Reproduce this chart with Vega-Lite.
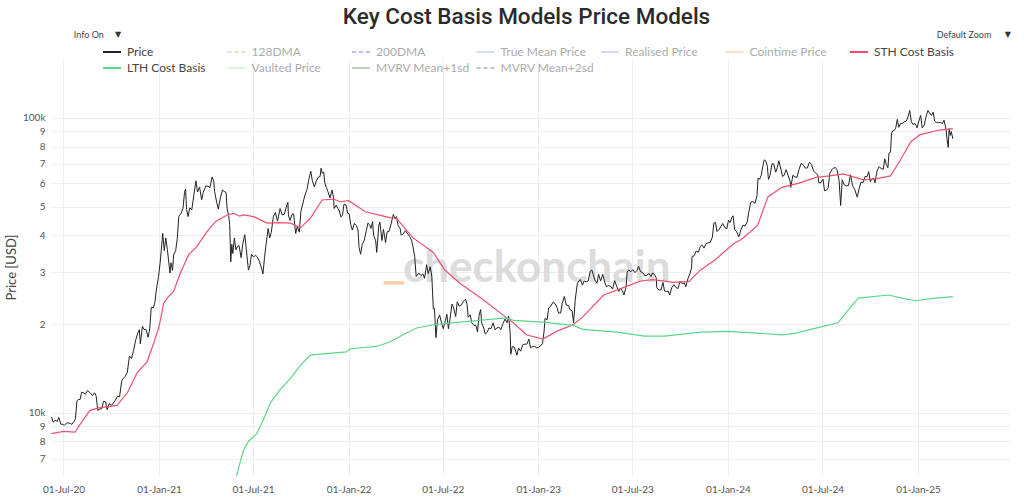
{
"$schema": "https://vega.github.io/schema/vega-lite/v6.json",
"autosize": {"type": "none"},
"padding": {"left": 51, "top": 58, "right": 14, "bottom": 23},
"width": 959,
"height": 418,
"background": "white",
"title": {"text": "Key Cost Basis Models Price Models", "font": "Roboto", "fontSize": 22.5, "fontWeight": 500, "color": "#2b2b2b", "anchor": "middle", "frame": "group", "offset": 3, "dx": -4},
"config": {
  "view": {"stroke": null},
  "axis": {"labelFont": "Lato", "titleFont": "Lato", "labelColor": "#555", "titleColor": "#444", "gridColor": "#eeeeee", "domain": false, "ticks": false},
  "legend": {"labelFont": "Lato"}
},
"data": {"values": [
{"date":"2020-06-08","series":"Price","value":9700},{"date":"2020-06-11","series":"Price","value":9300},{"date":"2020-06-15","series":"Price","value":9450},{"date":"2020-06-19","series":"Price","value":9350},{"date":"2020-06-22","series":"Price","value":9650},{"date":"2020-06-26","series":"Price","value":9150},{"date":"2020-06-29","series":"Price","value":9150},{"date":"2020-07-03","series":"Price","value":9080},{"date":"2020-07-07","series":"Price","value":9250},{"date":"2020-07-10","series":"Price","value":9250},{"date":"2020-07-14","series":"Price","value":9200},{"date":"2020-07-17","series":"Price","value":9150},{"date":"2020-07-21","series":"Price","value":9350},{"date":"2020-07-24","series":"Price","value":9550},{"date":"2020-07-27","series":"Price","value":11000},{"date":"2020-07-30","series":"Price","value":11100},{"date":"2020-08-02","series":"Price","value":11100},{"date":"2020-08-05","series":"Price","value":11750},{"date":"2020-08-09","series":"Price","value":11700},{"date":"2020-08-12","series":"Price","value":11550},{"date":"2020-08-16","series":"Price","value":11900},{"date":"2020-08-19","series":"Price","value":11800},{"date":"2020-08-22","series":"Price","value":11650},{"date":"2020-08-26","series":"Price","value":11450},{"date":"2020-08-30","series":"Price","value":11700},{"date":"2020-09-02","series":"Price","value":11400},{"date":"2020-09-05","series":"Price","value":10200},{"date":"2020-09-09","series":"Price","value":10300},{"date":"2020-09-13","series":"Price","value":10350},{"date":"2020-09-16","series":"Price","value":10950},{"date":"2020-09-20","series":"Price","value":10900},{"date":"2020-09-23","series":"Price","value":10250},{"date":"2020-09-27","series":"Price","value":10750},{"date":"2020-10-01","series":"Price","value":10600},{"date":"2020-10-05","series":"Price","value":10800},{"date":"2020-10-09","series":"Price","value":11050},{"date":"2020-10-13","series":"Price","value":11400},{"date":"2020-10-17","series":"Price","value":11350},{"date":"2020-10-21","series":"Price","value":12800},{"date":"2020-10-24","series":"Price","value":13100},{"date":"2020-10-28","series":"Price","value":13300},{"date":"2020-11-01","series":"Price","value":13750},{"date":"2020-11-05","series":"Price","value":15600},{"date":"2020-11-09","series":"Price","value":15300},{"date":"2020-11-13","series":"Price","value":16300},{"date":"2020-11-17","series":"Price","value":17650},{"date":"2020-11-21","series":"Price","value":18650},{"date":"2020-11-24","series":"Price","value":19150},{"date":"2020-11-26","series":"Price","value":17150},{"date":"2020-11-30","series":"Price","value":19650},{"date":"2020-12-03","series":"Price","value":19200},{"date":"2020-12-07","series":"Price","value":19150},{"date":"2020-12-11","series":"Price","value":18050},{"date":"2020-12-14","series":"Price","value":19250},{"date":"2020-12-17","series":"Price","value":22800},{"date":"2020-12-21","series":"Price","value":22700},{"date":"2020-12-24","series":"Price","value":23700},{"date":"2020-12-27","series":"Price","value":26300},{"date":"2020-12-31","series":"Price","value":29000},
{"date":"2021-01-03","series":"Price","value":32200},{"date":"2021-01-06","series":"Price","value":36800},{"date":"2021-01-08","series":"Price","value":40600},{"date":"2021-01-11","series":"Price","value":35500},{"date":"2021-01-14","series":"Price","value":39200},{"date":"2021-01-17","series":"Price","value":35800},{"date":"2021-01-22","series":"Price","value":29800},{"date":"2021-01-24","series":"Price","value":32300},{"date":"2021-01-27","series":"Price","value":30400},{"date":"2021-01-29","series":"Price","value":34300},{"date":"2021-02-02","series":"Price","value":35500},{"date":"2021-02-05","series":"Price","value":38900},{"date":"2021-02-08","series":"Price","value":46400},{"date":"2021-02-12","series":"Price","value":47400},{"date":"2021-02-16","series":"Price","value":49200},{"date":"2021-02-19","series":"Price","value":55900},{"date":"2021-02-21","series":"Price","value":57400},{"date":"2021-02-23","series":"Price","value":48900},{"date":"2021-02-26","series":"Price","value":46300},{"date":"2021-03-01","series":"Price","value":49600},{"date":"2021-03-05","series":"Price","value":48800},{"date":"2021-03-09","series":"Price","value":54900},{"date":"2021-03-13","series":"Price","value":61200},{"date":"2021-03-16","series":"Price","value":56100},{"date":"2021-03-20","series":"Price","value":58300},{"date":"2021-03-24","series":"Price","value":52800},{"date":"2021-03-27","series":"Price","value":55900},{"date":"2021-04-01","series":"Price","value":58800},{"date":"2021-04-05","series":"Price","value":58700},{"date":"2021-04-09","series":"Price","value":58100},{"date":"2021-04-13","series":"Price","value":63100},{"date":"2021-04-16","series":"Price","value":61300},{"date":"2021-04-18","series":"Price","value":56200},{"date":"2021-04-22","series":"Price","value":51700},{"date":"2021-04-25","series":"Price","value":49100},{"date":"2021-04-29","series":"Price","value":53600},{"date":"2021-05-03","series":"Price","value":57000},{"date":"2021-05-06","series":"Price","value":56400},{"date":"2021-05-10","series":"Price","value":55800},{"date":"2021-05-12","series":"Price","value":49200},{"date":"2021-05-15","series":"Price","value":46700},{"date":"2021-05-17","series":"Price","value":43500},{"date":"2021-05-19","series":"Price","value":32500},{"date":"2021-05-21","series":"Price","value":37300},{"date":"2021-05-23","series":"Price","value":34700},{"date":"2021-05-26","series":"Price","value":39200},{"date":"2021-05-29","series":"Price","value":35700},{"date":"2021-06-01","series":"Price","value":36700},{"date":"2021-06-04","series":"Price","value":36900},{"date":"2021-06-08","series":"Price","value":33600},{"date":"2021-06-11","series":"Price","value":37300},{"date":"2021-06-15","series":"Price","value":40200},{"date":"2021-06-18","series":"Price","value":35800},{"date":"2021-06-22","series":"Price","value":30500},{"date":"2021-06-25","series":"Price","value":31600},{"date":"2021-06-28","series":"Price","value":34500},{"date":"2021-07-02","series":"Price","value":33800},{"date":"2021-07-06","series":"Price","value":34200},{"date":"2021-07-09","series":"Price","value":33800},{"date":"2021-07-13","series":"Price","value":32700},{"date":"2021-07-16","series":"Price","value":31500},{"date":"2021-07-20","series":"Price","value":29600},{"date":"2021-07-23","series":"Price","value":33600},{"date":"2021-07-26","series":"Price","value":37300},{"date":"2021-07-30","series":"Price","value":42200},{"date":"2021-08-02","series":"Price","value":39200},{"date":"2021-08-05","series":"Price","value":40900},{"date":"2021-08-09","series":"Price","value":46300},{"date":"2021-08-13","series":"Price","value":47800},{"date":"2021-08-17","series":"Price","value":44700},{"date":"2021-08-22","series":"Price","value":49300},{"date":"2021-08-26","series":"Price","value":46900},{"date":"2021-08-30","series":"Price","value":47100},{"date":"2021-09-03","series":"Price","value":49900},{"date":"2021-09-06","series":"Price","value":51700},{"date":"2021-09-07","series":"Price","value":46800},{"date":"2021-09-10","series":"Price","value":44900},{"date":"2021-09-14","series":"Price","value":47100},{"date":"2021-09-17","series":"Price","value":47300},{"date":"2021-09-21","series":"Price","value":40600},{"date":"2021-09-24","series":"Price","value":42800},{"date":"2021-09-28","series":"Price","value":41000},{"date":"2021-10-01","series":"Price","value":48200},{"date":"2021-10-05","series":"Price","value":51500},{"date":"2021-10-09","series":"Price","value":54900},{"date":"2021-10-13","series":"Price","value":57300},{"date":"2021-10-16","series":"Price","value":61500},{"date":"2021-10-20","series":"Price","value":66000},{"date":"2021-10-23","series":"Price","value":61300},{"date":"2021-10-27","series":"Price","value":58400},{"date":"2021-10-31","series":"Price","value":61300},{"date":"2021-11-03","series":"Price","value":62900},{"date":"2021-11-07","series":"Price","value":63300},{"date":"2021-11-09","series":"Price","value":67600},{"date":"2021-11-11","series":"Price","value":64900},{"date":"2021-11-14","series":"Price","value":65500},{"date":"2021-11-16","series":"Price","value":60300},{"date":"2021-11-19","series":"Price","value":58100},{"date":"2021-11-22","series":"Price","value":56300},{"date":"2021-11-26","series":"Price","value":53600},{"date":"2021-11-30","series":"Price","value":57000},{"date":"2021-12-03","series":"Price","value":53600},{"date":"2021-12-04","series":"Price","value":49300},{"date":"2021-12-08","series":"Price","value":50600},{"date":"2021-12-11","series":"Price","value":49400},{"date":"2021-12-14","series":"Price","value":48400},{"date":"2021-12-17","series":"Price","value":46200},{"date":"2021-12-20","series":"Price","value":46700},{"date":"2021-12-23","series":"Price","value":51000},{"date":"2021-12-27","series":"Price","value":50700},{"date":"2021-12-30","series":"Price","value":47500},
{"date":"2022-01-02","series":"Price","value":47300},{"date":"2022-01-05","series":"Price","value":43500},{"date":"2022-01-08","series":"Price","value":41700},{"date":"2022-01-12","series":"Price","value":43900},{"date":"2022-01-16","series":"Price","value":43100},{"date":"2022-01-19","series":"Price","value":41700},{"date":"2022-01-21","series":"Price","value":36400},{"date":"2022-01-24","series":"Price","value":34500},{"date":"2022-01-27","series":"Price","value":37200},{"date":"2022-01-31","series":"Price","value":38500},{"date":"2022-02-04","series":"Price","value":41500},{"date":"2022-02-07","series":"Price","value":44000},{"date":"2022-02-10","series":"Price","value":43500},{"date":"2022-02-13","series":"Price","value":42200},{"date":"2022-02-16","series":"Price","value":44500},{"date":"2022-02-18","series":"Price","value":40000},{"date":"2022-02-22","series":"Price","value":38300},{"date":"2022-02-24","series":"Price","value":35000},{"date":"2022-02-28","series":"Price","value":43200},{"date":"2022-03-02","series":"Price","value":44400},{"date":"2022-03-06","series":"Price","value":38400},{"date":"2022-03-09","series":"Price","value":41900},{"date":"2022-03-13","series":"Price","value":37800},{"date":"2022-03-16","series":"Price","value":41100},{"date":"2022-03-20","series":"Price","value":41300},{"date":"2022-03-24","series":"Price","value":44000},{"date":"2022-03-28","series":"Price","value":47100},{"date":"2022-03-31","series":"Price","value":45500},{"date":"2022-04-03","series":"Price","value":46300},{"date":"2022-04-06","series":"Price","value":43200},{"date":"2022-04-10","series":"Price","value":42300},{"date":"2022-04-12","series":"Price","value":40100},{"date":"2022-04-16","series":"Price","value":40400},{"date":"2022-04-20","series":"Price","value":41500},{"date":"2022-04-25","series":"Price","value":40400},{"date":"2022-04-28","series":"Price","value":39700},{"date":"2022-05-02","series":"Price","value":38500},{"date":"2022-05-05","series":"Price","value":36500},{"date":"2022-05-08","series":"Price","value":34000},{"date":"2022-05-11","series":"Price","value":29000},{"date":"2022-05-13","series":"Price","value":29300},{"date":"2022-05-16","series":"Price","value":29800},{"date":"2022-05-20","series":"Price","value":29200},{"date":"2022-05-24","series":"Price","value":29600},{"date":"2022-05-27","series":"Price","value":28600},{"date":"2022-05-31","series":"Price","value":31800},{"date":"2022-06-03","series":"Price","value":29700},{"date":"2022-06-07","series":"Price","value":31300},{"date":"2022-06-10","series":"Price","value":29100},{"date":"2022-06-13","series":"Price","value":22500},{"date":"2022-06-15","series":"Price","value":22600},{"date":"2022-06-18","series":"Price","value":18000},{"date":"2022-06-21","series":"Price","value":20700},{"date":"2022-06-25","series":"Price","value":21500},{"date":"2022-06-29","series":"Price","value":20100},{"date":"2022-07-02","series":"Price","value":19300},{"date":"2022-07-06","series":"Price","value":20500},{"date":"2022-07-09","series":"Price","value":21600},{"date":"2022-07-12","series":"Price","value":19300},{"date":"2022-07-15","series":"Price","value":20800},{"date":"2022-07-19","series":"Price","value":23400},{"date":"2022-07-22","series":"Price","value":22700},{"date":"2022-07-26","series":"Price","value":21200},{"date":"2022-07-29","series":"Price","value":23800},{"date":"2022-08-02","series":"Price","value":23000},{"date":"2022-08-06","series":"Price","value":23200},{"date":"2022-08-10","series":"Price","value":23900},{"date":"2022-08-14","series":"Price","value":24300},{"date":"2022-08-17","series":"Price","value":23300},{"date":"2022-08-19","series":"Price","value":21100},{"date":"2022-08-23","series":"Price","value":21500},{"date":"2022-08-26","series":"Price","value":20200},{"date":"2022-08-30","series":"Price","value":19800},{"date":"2022-09-03","series":"Price","value":19800},{"date":"2022-09-06","series":"Price","value":18800},{"date":"2022-09-09","series":"Price","value":21400},{"date":"2022-09-12","series":"Price","value":22400},{"date":"2022-09-14","series":"Price","value":20200},{"date":"2022-09-18","series":"Price","value":19400},{"date":"2022-09-21","series":"Price","value":18500},{"date":"2022-09-25","series":"Price","value":18800},{"date":"2022-09-28","series":"Price","value":19400},{"date":"2022-10-02","series":"Price","value":19300},{"date":"2022-10-06","series":"Price","value":20200},{"date":"2022-10-10","series":"Price","value":19100},{"date":"2022-10-13","series":"Price","value":19400},{"date":"2022-10-17","series":"Price","value":19550},{"date":"2022-10-21","series":"Price","value":19150},{"date":"2022-10-25","series":"Price","value":20100},{"date":"2022-10-29","series":"Price","value":20800},{"date":"2022-11-02","series":"Price","value":20200},{"date":"2022-11-05","series":"Price","value":21300},{"date":"2022-11-08","series":"Price","value":18500},{"date":"2022-11-09","series":"Price","value":15800},{"date":"2022-11-12","series":"Price","value":16800},{"date":"2022-11-16","series":"Price","value":16700},{"date":"2022-11-21","series":"Price","value":15700},{"date":"2022-11-24","series":"Price","value":16600},{"date":"2022-11-28","series":"Price","value":16200},{"date":"2022-12-02","series":"Price","value":17000},{"date":"2022-12-06","series":"Price","value":17100},{"date":"2022-12-10","series":"Price","value":17100},{"date":"2022-12-14","series":"Price","value":17800},{"date":"2022-12-17","series":"Price","value":16600},{"date":"2022-12-21","series":"Price","value":16800},{"date":"2022-12-25","series":"Price","value":16800},{"date":"2022-12-29","series":"Price","value":16600},
{"date":"2023-01-02","series":"Price","value":16700},{"date":"2023-01-06","series":"Price","value":16900},{"date":"2023-01-09","series":"Price","value":17200},{"date":"2023-01-12","series":"Price","value":18800},{"date":"2023-01-14","series":"Price","value":20900},{"date":"2023-01-18","series":"Price","value":20700},{"date":"2023-01-21","series":"Price","value":22700},{"date":"2023-01-25","series":"Price","value":23000},{"date":"2023-01-29","series":"Price","value":23700},{"date":"2023-02-02","series":"Price","value":23500},{"date":"2023-02-06","series":"Price","value":22800},{"date":"2023-02-09","series":"Price","value":21800},{"date":"2023-02-13","series":"Price","value":21800},{"date":"2023-02-16","series":"Price","value":23500},{"date":"2023-02-20","series":"Price","value":24800},{"date":"2023-02-24","series":"Price","value":23200},{"date":"2023-02-28","series":"Price","value":23150},{"date":"2023-03-03","series":"Price","value":22400},{"date":"2023-03-07","series":"Price","value":22200},{"date":"2023-03-10","series":"Price","value":20200},{"date":"2023-03-13","series":"Price","value":24100},{"date":"2023-03-17","series":"Price","value":27400},{"date":"2023-03-20","series":"Price","value":28000},{"date":"2023-03-23","series":"Price","value":28300},{"date":"2023-03-27","series":"Price","value":27100},{"date":"2023-03-30","series":"Price","value":28000},{"date":"2023-04-03","series":"Price","value":27800},{"date":"2023-04-07","series":"Price","value":28000},{"date":"2023-04-11","series":"Price","value":30200},{"date":"2023-04-14","series":"Price","value":30500},{"date":"2023-04-17","series":"Price","value":29400},{"date":"2023-04-20","series":"Price","value":28200},{"date":"2023-04-24","series":"Price","value":27500},{"date":"2023-04-27","series":"Price","value":29500},{"date":"2023-05-01","series":"Price","value":28000},{"date":"2023-05-05","series":"Price","value":29500},{"date":"2023-05-09","series":"Price","value":27700},{"date":"2023-05-12","series":"Price","value":26800},{"date":"2023-05-16","series":"Price","value":27000},{"date":"2023-05-20","series":"Price","value":26900},{"date":"2023-05-24","series":"Price","value":26300},{"date":"2023-05-28","series":"Price","value":28100},{"date":"2023-06-01","series":"Price","value":26800},{"date":"2023-06-05","series":"Price","value":25800},{"date":"2023-06-08","series":"Price","value":26500},{"date":"2023-06-12","series":"Price","value":25900},{"date":"2023-06-15","series":"Price","value":25100},{"date":"2023-06-19","series":"Price","value":26800},{"date":"2023-06-21","series":"Price","value":30000},{"date":"2023-06-24","series":"Price","value":30500},{"date":"2023-06-28","series":"Price","value":30100},{"date":"2023-07-02","series":"Price","value":30600},{"date":"2023-07-06","series":"Price","value":29900},{"date":"2023-07-10","series":"Price","value":30400},{"date":"2023-07-13","series":"Price","value":31400},{"date":"2023-07-17","series":"Price","value":30100},{"date":"2023-07-21","series":"Price","value":29900},{"date":"2023-07-25","series":"Price","value":29200},{"date":"2023-07-29","series":"Price","value":29300},{"date":"2023-08-02","series":"Price","value":29700},{"date":"2023-08-06","series":"Price","value":29000},{"date":"2023-08-09","series":"Price","value":29800},{"date":"2023-08-13","series":"Price","value":29400},{"date":"2023-08-16","series":"Price","value":28700},{"date":"2023-08-17","series":"Price","value":26600},{"date":"2023-08-21","series":"Price","value":26100},{"date":"2023-08-25","series":"Price","value":26100},{"date":"2023-08-29","series":"Price","value":27700},{"date":"2023-09-01","series":"Price","value":25900},{"date":"2023-09-05","series":"Price","value":25800},{"date":"2023-09-08","series":"Price","value":25900},{"date":"2023-09-11","series":"Price","value":25100},{"date":"2023-09-15","series":"Price","value":26600},{"date":"2023-09-19","series":"Price","value":27200},{"date":"2023-09-23","series":"Price","value":26600},{"date":"2023-09-27","series":"Price","value":26400},{"date":"2023-10-01","series":"Price","value":28000},{"date":"2023-10-05","series":"Price","value":27400},{"date":"2023-10-09","series":"Price","value":27600},{"date":"2023-10-12","series":"Price","value":26800},{"date":"2023-10-16","series":"Price","value":28500},{"date":"2023-10-20","series":"Price","value":29700},{"date":"2023-10-23","series":"Price","value":31000},{"date":"2023-10-24","series":"Price","value":33900},{"date":"2023-10-28","series":"Price","value":34100},{"date":"2023-11-01","series":"Price","value":35400},{"date":"2023-11-05","series":"Price","value":35000},{"date":"2023-11-09","series":"Price","value":36700},{"date":"2023-11-12","series":"Price","value":37100},{"date":"2023-11-16","series":"Price","value":36200},{"date":"2023-11-20","series":"Price","value":37500},{"date":"2023-11-24","series":"Price","value":37700},{"date":"2023-11-28","series":"Price","value":37800},{"date":"2023-12-02","series":"Price","value":39400},{"date":"2023-12-05","series":"Price","value":44000},{"date":"2023-12-08","series":"Price","value":44200},{"date":"2023-12-11","series":"Price","value":41200},{"date":"2023-12-15","series":"Price","value":41900},{"date":"2023-12-18","series":"Price","value":42700},{"date":"2023-12-22","series":"Price","value":43900},{"date":"2023-12-26","series":"Price","value":42500},{"date":"2023-12-30","series":"Price","value":42100},
{"date":"2024-01-02","series":"Price","value":45000},{"date":"2024-01-05","series":"Price","value":44200},{"date":"2024-01-09","series":"Price","value":46100},{"date":"2024-01-11","series":"Price","value":46600},{"date":"2024-01-14","series":"Price","value":41800},{"date":"2024-01-18","series":"Price","value":41100},{"date":"2024-01-22","series":"Price","value":39500},{"date":"2024-01-26","series":"Price","value":41800},{"date":"2024-01-30","series":"Price","value":43300},{"date":"2024-02-03","series":"Price","value":43000},{"date":"2024-02-07","series":"Price","value":44300},{"date":"2024-02-10","series":"Price","value":47700},{"date":"2024-02-14","series":"Price","value":51800},{"date":"2024-02-18","series":"Price","value":52100},{"date":"2024-02-22","series":"Price","value":51300},{"date":"2024-02-26","series":"Price","value":54500},{"date":"2024-02-28","series":"Price","value":62500},{"date":"2024-03-02","series":"Price","value":62000},{"date":"2024-03-05","series":"Price","value":63800},{"date":"2024-03-08","series":"Price","value":68300},{"date":"2024-03-11","series":"Price","value":72100},{"date":"2024-03-14","series":"Price","value":71400},{"date":"2024-03-17","series":"Price","value":68400},{"date":"2024-03-19","series":"Price","value":61900},{"date":"2024-03-22","series":"Price","value":63800},{"date":"2024-03-26","series":"Price","value":70000},{"date":"2024-03-29","series":"Price","value":69900},{"date":"2024-04-02","series":"Price","value":65500},{"date":"2024-04-05","series":"Price","value":67800},{"date":"2024-04-08","series":"Price","value":71600},{"date":"2024-04-12","series":"Price","value":67100},{"date":"2024-04-15","series":"Price","value":63400},{"date":"2024-04-18","series":"Price","value":63800},{"date":"2024-04-22","series":"Price","value":66800},{"date":"2024-04-26","series":"Price","value":63800},{"date":"2024-04-30","series":"Price","value":60600},{"date":"2024-05-01","series":"Price","value":58200},{"date":"2024-05-05","series":"Price","value":63900},{"date":"2024-05-09","series":"Price","value":63100},{"date":"2024-05-13","series":"Price","value":62900},{"date":"2024-05-17","series":"Price","value":67000},{"date":"2024-05-21","series":"Price","value":70100},{"date":"2024-05-25","series":"Price","value":69400},{"date":"2024-05-29","series":"Price","value":67600},{"date":"2024-06-02","series":"Price","value":67700},{"date":"2024-06-06","series":"Price","value":70800},{"date":"2024-06-10","series":"Price","value":69600},{"date":"2024-06-14","series":"Price","value":66000},{"date":"2024-06-18","series":"Price","value":65100},{"date":"2024-06-22","series":"Price","value":64100},{"date":"2024-06-24","series":"Price","value":60300},{"date":"2024-06-28","series":"Price","value":60300},{"date":"2024-07-02","series":"Price","value":62000},{"date":"2024-07-05","series":"Price","value":56700},{"date":"2024-07-08","series":"Price","value":56700},{"date":"2024-07-12","series":"Price","value":57900},{"date":"2024-07-15","series":"Price","value":64700},{"date":"2024-07-19","series":"Price","value":66700},{"date":"2024-07-22","series":"Price","value":67600},{"date":"2024-07-26","series":"Price","value":67900},{"date":"2024-07-29","series":"Price","value":66800},{"date":"2024-08-02","series":"Price","value":61400},{"date":"2024-08-05","series":"Price","value":50500},{"date":"2024-08-08","series":"Price","value":61700},{"date":"2024-08-12","series":"Price","value":59300},{"date":"2024-08-16","series":"Price","value":58900},{"date":"2024-08-20","series":"Price","value":59000},{"date":"2024-08-24","series":"Price","value":64200},{"date":"2024-08-28","series":"Price","value":59000},{"date":"2024-09-01","series":"Price","value":57300},{"date":"2024-09-06","series":"Price","value":53900},{"date":"2024-09-09","series":"Price","value":57000},{"date":"2024-09-13","series":"Price","value":60500},{"date":"2024-09-17","series":"Price","value":60300},{"date":"2024-09-21","series":"Price","value":63300},{"date":"2024-09-25","series":"Price","value":63200},{"date":"2024-09-28","series":"Price","value":65800},{"date":"2024-10-01","series":"Price","value":60800},{"date":"2024-10-04","series":"Price","value":62100},{"date":"2024-10-08","series":"Price","value":62200},{"date":"2024-10-10","series":"Price","value":60300},{"date":"2024-10-14","series":"Price","value":66000},{"date":"2024-10-18","series":"Price","value":68400},{"date":"2024-10-22","series":"Price","value":67400},{"date":"2024-10-26","series":"Price","value":67000},{"date":"2024-10-29","series":"Price","value":72700},{"date":"2024-11-01","series":"Price","value":69500},{"date":"2024-11-04","series":"Price","value":67800},{"date":"2024-11-06","series":"Price","value":75900},{"date":"2024-11-09","series":"Price","value":76500},{"date":"2024-11-11","series":"Price","value":88700},{"date":"2024-11-13","series":"Price","value":90400},{"date":"2024-11-16","series":"Price","value":90600},{"date":"2024-11-19","series":"Price","value":92300},{"date":"2024-11-22","series":"Price","value":98900},{"date":"2024-11-25","series":"Price","value":93000},{"date":"2024-11-28","series":"Price","value":95600},{"date":"2024-12-02","series":"Price","value":95800},{"date":"2024-12-05","series":"Price","value":97000},{"date":"2024-12-09","series":"Price","value":97400},{"date":"2024-12-12","series":"Price","value":100000},{"date":"2024-12-16","series":"Price","value":106000},{"date":"2024-12-19","series":"Price","value":97300},{"date":"2024-12-22","series":"Price","value":95100},{"date":"2024-12-26","series":"Price","value":95800},{"date":"2024-12-30","series":"Price","value":92600},
{"date":"2025-01-02","series":"Price","value":96900},{"date":"2025-01-06","series":"Price","value":102000},{"date":"2025-01-09","series":"Price","value":92500},{"date":"2025-01-13","series":"Price","value":94500},{"date":"2025-01-16","series":"Price","value":100500},{"date":"2025-01-20","series":"Price","value":106000},{"date":"2025-01-23","series":"Price","value":104000},{"date":"2025-01-27","series":"Price","value":102000},{"date":"2025-01-30","series":"Price","value":104700},{"date":"2025-02-02","series":"Price","value":97700},{"date":"2025-02-05","series":"Price","value":96600},{"date":"2025-02-09","series":"Price","value":96400},{"date":"2025-02-13","series":"Price","value":96600},{"date":"2025-02-17","series":"Price","value":95700},{"date":"2025-02-20","series":"Price","value":98300},{"date":"2025-02-24","series":"Price","value":91400},{"date":"2025-02-26","series":"Price","value":84300},{"date":"2025-02-28","series":"Price","value":79500},{"date":"2025-03-02","series":"Price","value":92000},{"date":"2025-03-04","series":"Price","value":87200},{"date":"2025-03-06","series":"Price","value":89900},{"date":"2025-03-09","series":"Price","value":85000},
{"date":"2020-06-08","series":"STH Cost Basis","value":8500},{"date":"2020-07-01","series":"STH Cost Basis","value":8650},{"date":"2020-07-23","series":"STH Cost Basis","value":8600},{"date":"2020-08-05","series":"STH Cost Basis","value":9300},{"date":"2020-08-21","series":"STH Cost Basis","value":10200},{"date":"2020-09-07","series":"STH Cost Basis","value":10400},{"date":"2020-10-12","series":"STH Cost Basis","value":10600},{"date":"2020-11-01","series":"STH Cost Basis","value":11700},{"date":"2020-11-20","series":"STH Cost Basis","value":13700},{"date":"2020-12-09","series":"STH Cost Basis","value":14900},{"date":"2020-12-22","series":"STH Cost Basis","value":17300},{"date":"2021-01-01","series":"STH Cost Basis","value":19600},{"date":"2021-01-10","series":"STH Cost Basis","value":23600},{"date":"2021-01-19","series":"STH Cost Basis","value":24800},{"date":"2021-01-29","series":"STH Cost Basis","value":25800},{"date":"2021-02-11","series":"STH Cost Basis","value":29800},{"date":"2021-02-27","series":"STH Cost Basis","value":34400},{"date":"2021-03-15","series":"STH Cost Basis","value":36700},{"date":"2021-04-04","series":"STH Cost Basis","value":41300},{"date":"2021-04-20","series":"STH Cost Basis","value":44600},{"date":"2021-05-12","series":"STH Cost Basis","value":46900},{"date":"2021-05-25","series":"STH Cost Basis","value":47500},{"date":"2021-06-05","series":"STH Cost Basis","value":46500},{"date":"2021-06-13","series":"STH Cost Basis","value":46900},{"date":"2021-07-02","series":"STH Cost Basis","value":46300},{"date":"2021-07-28","series":"STH Cost Basis","value":44000},{"date":"2021-08-20","series":"STH Cost Basis","value":44200},{"date":"2021-09-11","series":"STH Cost Basis","value":44000},{"date":"2021-09-30","series":"STH Cost Basis","value":42400},{"date":"2021-10-19","series":"STH Cost Basis","value":45700},{"date":"2021-11-11","series":"STH Cost Basis","value":52700},{"date":"2021-12-03","series":"STH Cost Basis","value":53100},{"date":"2021-12-15","series":"STH Cost Basis","value":52000},{"date":"2022-01-01","series":"STH Cost Basis","value":52400},{"date":"2022-02-02","series":"STH Cost Basis","value":48100},{"date":"2022-02-25","series":"STH Cost Basis","value":47000},{"date":"2022-03-21","series":"STH Cost Basis","value":45900},{"date":"2022-04-03","series":"STH Cost Basis","value":45700},{"date":"2022-05-05","series":"STH Cost Basis","value":39200},{"date":"2022-06-13","series":"STH Cost Basis","value":35000},{"date":"2022-07-05","series":"STH Cost Basis","value":30500},{"date":"2022-08-03","series":"STH Cost Basis","value":27500},{"date":"2022-09-17","series":"STH Cost Basis","value":24200},{"date":"2022-11-01","series":"STH Cost Basis","value":21000},{"date":"2022-11-14","series":"STH Cost Basis","value":20200},{"date":"2022-12-09","series":"STH Cost Basis","value":18400},{"date":"2023-01-10","series":"STH Cost Basis","value":17800},{"date":"2023-02-05","series":"STH Cost Basis","value":18900},{"date":"2023-03-09","series":"STH Cost Basis","value":19900},{"date":"2023-03-28","series":"STH Cost Basis","value":21200},{"date":"2023-05-07","series":"STH Cost Basis","value":25100},{"date":"2023-06-21","series":"STH Cost Basis","value":26900},{"date":"2023-07-17","series":"STH Cost Basis","value":28000},{"date":"2023-08-10","series":"STH Cost Basis","value":28300},{"date":"2023-09-19","series":"STH Cost Basis","value":27700},{"date":"2023-10-18","series":"STH Cost Basis","value":27900},{"date":"2023-11-10","series":"STH Cost Basis","value":30600},{"date":"2023-12-07","series":"STH Cost Basis","value":33000},{"date":"2024-01-13","series":"STH Cost Basis","value":37600},{"date":"2024-01-27","series":"STH Cost Basis","value":38700},{"date":"2024-02-27","series":"STH Cost Basis","value":43200},{"date":"2024-03-18","series":"STH Cost Basis","value":54000},{"date":"2024-04-14","series":"STH Cost Basis","value":58200},{"date":"2024-05-17","series":"STH Cost Basis","value":60100},{"date":"2024-06-19","series":"STH Cost Basis","value":62900},{"date":"2024-07-15","series":"STH Cost Basis","value":63600},{"date":"2024-08-10","series":"STH Cost Basis","value":64600},{"date":"2024-09-18","series":"STH Cost Basis","value":61700},{"date":"2024-10-14","series":"STH Cost Basis","value":62300},{"date":"2024-11-09","series":"STH Cost Basis","value":63600},{"date":"2024-11-28","series":"STH Cost Basis","value":72000},{"date":"2024-12-18","series":"STH Cost Basis","value":83100},{"date":"2025-01-04","series":"STH Cost Basis","value":87600},{"date":"2025-02-11","series":"STH Cost Basis","value":91000},{"date":"2025-03-09","series":"STH Cost Basis","value":92000},
{"date":"2021-05-29","series":"LTH Cost Basis","value":6000},{"date":"2021-06-05","series":"LTH Cost Basis","value":6700},{"date":"2021-06-13","series":"LTH Cost Basis","value":7500},{"date":"2021-06-22","series":"LTH Cost Basis","value":8000},{"date":"2021-07-08","series":"LTH Cost Basis","value":8500},{"date":"2021-07-21","series":"LTH Cost Basis","value":9500},{"date":"2021-08-03","series":"LTH Cost Basis","value":10800},{"date":"2021-08-22","series":"LTH Cost Basis","value":12000},{"date":"2021-09-11","series":"LTH Cost Basis","value":13100},{"date":"2021-09-30","series":"LTH Cost Basis","value":14500},{"date":"2021-10-19","series":"LTH Cost Basis","value":15700},{"date":"2021-11-01","series":"LTH Cost Basis","value":15800},{"date":"2021-12-28","series":"LTH Cost Basis","value":16100},{"date":"2022-01-04","series":"LTH Cost Basis","value":16500},{"date":"2022-02-24","series":"LTH Cost Basis","value":16800},{"date":"2022-03-21","series":"LTH Cost Basis","value":17400},{"date":"2022-04-16","series":"LTH Cost Basis","value":18400},{"date":"2022-05-12","series":"LTH Cost Basis","value":19400},{"date":"2022-06-13","series":"LTH Cost Basis","value":19900},{"date":"2022-08-03","series":"LTH Cost Basis","value":20300},{"date":"2022-11-01","series":"LTH Cost Basis","value":21000},{"date":"2022-11-14","series":"LTH Cost Basis","value":20600},{"date":"2023-01-10","series":"LTH Cost Basis","value":20300},{"date":"2023-03-09","series":"LTH Cost Basis","value":19800},{"date":"2023-03-28","series":"LTH Cost Basis","value":19200},{"date":"2023-06-02","series":"LTH Cost Basis","value":18800},{"date":"2023-07-24","series":"LTH Cost Basis","value":18200},{"date":"2023-09-01","series":"LTH Cost Basis","value":18200},{"date":"2023-11-10","series":"LTH Cost Basis","value":18800},{"date":"2024-01-02","series":"LTH Cost Basis","value":18900},{"date":"2024-04-14","series":"LTH Cost Basis","value":18400},{"date":"2024-05-09","series":"LTH Cost Basis","value":18600},{"date":"2024-06-30","series":"LTH Cost Basis","value":19600},{"date":"2024-07-31","series":"LTH Cost Basis","value":20200},{"date":"2024-08-20","series":"LTH Cost Basis","value":22400},{"date":"2024-09-08","series":"LTH Cost Basis","value":24500},{"date":"2024-11-05","series":"LTH Cost Basis","value":25100},{"date":"2024-12-01","series":"LTH Cost Basis","value":24500},{"date":"2024-12-27","series":"LTH Cost Basis","value":24000},{"date":"2025-02-03","series":"LTH Cost Basis","value":24500},{"date":"2025-03-09","series":"LTH Cost Basis","value":24800},
{"date":"2022-03-09","series":"Cointime Price","value":27600},{"date":"2022-04-18","series":"Cointime Price","value":27600}
]},
"layer": [
  {
    "data": {"values": [{"label": "checkonchain"}]},
    "mark": {"type": "text", "font": "Lato", "fontWeight": "bold", "fontSize": 44, "color": "#d6d6d6", "opacity": 0.85, "align": "center", "baseline": "alphabetic"},
    "encoding": {
      "x": {"datum": {"year": 2022, "month": 12, "date": 29, "utc": true}, "type": "temporal"},
      "y": {"datum": 27800, "type": "quantitative"},
      "text": {"field": "label"}
    }
  },
  {
    "transform": [{"filter": "datum.series == 'Price'"}],
    "mark": {"type": "line", "strokeWidth": 1, "clip": true},
    "encoding": {
      "x": {"field": "date", "type": "temporal", "title": null,
        "scale": {"type": "utc", "domain": [{"year": 2020, "month": 6, "date": 7, "utc": true}, {"year": 2025, "month": 6, "date": 27, "utc": true}]},
        "axis": {"format": "%d-%b-%y", "labelFontSize": 10, "labelPadding": 8, "grid": true,
          "values": [{"year": 2020, "month": 7, "date": 1, "utc": true}, {"year": 2021, "month": 1, "date": 1, "utc": true}, {"year": 2021, "month": 7, "date": 1, "utc": true}, {"year": 2022, "month": 1, "date": 1, "utc": true}, {"year": 2022, "month": 7, "date": 1, "utc": true}, {"year": 2023, "month": 1, "date": 1, "utc": true}, {"year": 2023, "month": 7, "date": 1, "utc": true}, {"year": 2024, "month": 1, "date": 1, "utc": true}, {"year": 2024, "month": 7, "date": 1, "utc": true}, {"year": 2025, "month": 1, "date": 1, "utc": true}]}},
      "y": {"field": "value", "type": "quantitative", "title": "Price [USD]",
        "scale": {"type": "log", "domain": [6110, 159700], "nice": false},
        "axis": {"values": [7000, 8000, 9000, 10000, 20000, 30000, 40000, 50000, 60000, 70000, 80000, 90000, 100000],
          "labelExpr": "datum.value == 100000 ? '100k' : datum.value == 10000 ? '10k' : datum.value < 10000 ? format(datum.value / 1000, 'd') : format(datum.value / 10000, 'd')",
          "labelFontSize": 10, "labelPadding": 6, "titleFontSize": 13, "titleFontWeight": "normal", "titlePadding": 4, "grid": true}},
      "color": {"field": "series", "type": "nominal",
        "scale": {"domain": ["Price", "128DMA", "200DMA", "True Mean Price", "Realised Price", "Cointime Price", "STH Cost Basis", "LTH Cost Basis", "Vaulted Price", "MVRV Mean+1sd", "MVRV Mean+2sd"],
          "range": ["#222222", "#f2c27a", "#7f7ff0", "#9ec3f2", "#b4aef2", "#f7c593", "#f0506e", "#5cd68a", "#b3ebc4", "#7ea285", "#8f8f8f"]},
        "legend": {"title": null, "orient": "none", "legendX": 51, "legendY": -16, "direction": "horizontal", "columns": 7, "gridAlign": "all",
          "columnPadding": 2.5, "rowPadding": 0, "padding": 0, "symbolType": "stroke", "symbolSize": 324, "symbolStrokeWidth": 2, "labelOffset": 5,
          "labelFontSize": 12, "labelColor": "#444", "labelLimit": 200,
          "encode": {
            "symbols": {"update": {
              "strokeDash": {"signal": "indexof(['128DMA','200DMA','MVRV Mean+2sd'], datum.value) >= 0 ? [4,3] : [1,0]"},
              "opacity": {"signal": "indexof(['Price','STH Cost Basis','LTH Cost Basis'], datum.value) >= 0 ? 1 : 0.5"}}},
            "labels": {"update": {
              "opacity": {"signal": "indexof(['Price','STH Cost Basis','LTH Cost Basis'], datum.value) >= 0 ? 1 : 0.45"}}}
          }}}
    }
  },
  {
    "transform": [{"filter": "datum.series == 'STH Cost Basis'"}],
    "mark": {"type": "line", "strokeWidth": 1.2, "clip": true},
    "encoding": {
      "x": {"field": "date", "type": "temporal"},
      "y": {"field": "value", "type": "quantitative"},
      "color": {"field": "series", "type": "nominal"}
    }
  },
  {
    "transform": [{"filter": "datum.series == 'LTH Cost Basis'"}],
    "mark": {"type": "line", "strokeWidth": 1.2, "clip": true},
    "encoding": {
      "x": {"field": "date", "type": "temporal"},
      "y": {"field": "value", "type": "quantitative"},
      "color": {"field": "series", "type": "nominal"}
    }
  },
  {
    "transform": [{"filter": "datum.series == 'Cointime Price'"}],
    "mark": {"type": "line", "strokeWidth": 3.5, "opacity": 0.8, "clip": true},
    "encoding": {
      "x": {"field": "date", "type": "temporal"},
      "y": {"field": "value", "type": "quantitative"},
      "color": {"field": "series", "type": "nominal"}
    }
  },
  {
    "data": {"values": [{"label": "Info On"}]},
    "mark": {"type": "text", "font": "Lato", "fontSize": 9, "color": "#444", "align": "left", "baseline": "middle"},
    "encoding": {
      "x": {"datum": {"year": 2020, "month": 7, "date": 21, "utc": true}, "type": "temporal"},
      "y": {"datum": 191000, "type": "quantitative"},
      "text": {"field": "label"}
    }
  },
  {
    "data": {"values": [{"label": "▼"}]},
    "mark": {"type": "text", "font": "DejaVu Sans", "fontSize": 8, "color": "#333", "align": "center", "baseline": "middle"},
    "encoding": {
      "x": {"datum": {"year": 2020, "month": 10, "date": 14, "utc": true}, "type": "temporal"},
      "y": {"datum": 191000, "type": "quantitative"},
      "text": {"field": "label"}
    }
  },
  {
    "data": {"values": [{"label": "Default Zoom"}]},
    "mark": {"type": "text", "font": "Lato", "fontSize": 9, "color": "#444", "align": "left", "baseline": "middle"},
    "encoding": {
      "x": {"datum": {"year": 2025, "month": 2, "date": 6, "utc": true}, "type": "temporal"},
      "y": {"datum": 191000, "type": "quantitative"},
      "text": {"field": "label"}
    }
  },
  {
    "data": {"values": [{"label": "▼"}]},
    "mark": {"type": "text", "font": "DejaVu Sans", "fontSize": 8, "color": "#333", "align": "center", "baseline": "middle"},
    "encoding": {
      "x": {"datum": {"year": 2025, "month": 6, "date": 23, "utc": true}, "type": "temporal"},
      "y": {"datum": 191000, "type": "quantitative"},
      "text": {"field": "label"}
    }
  }
]
}
